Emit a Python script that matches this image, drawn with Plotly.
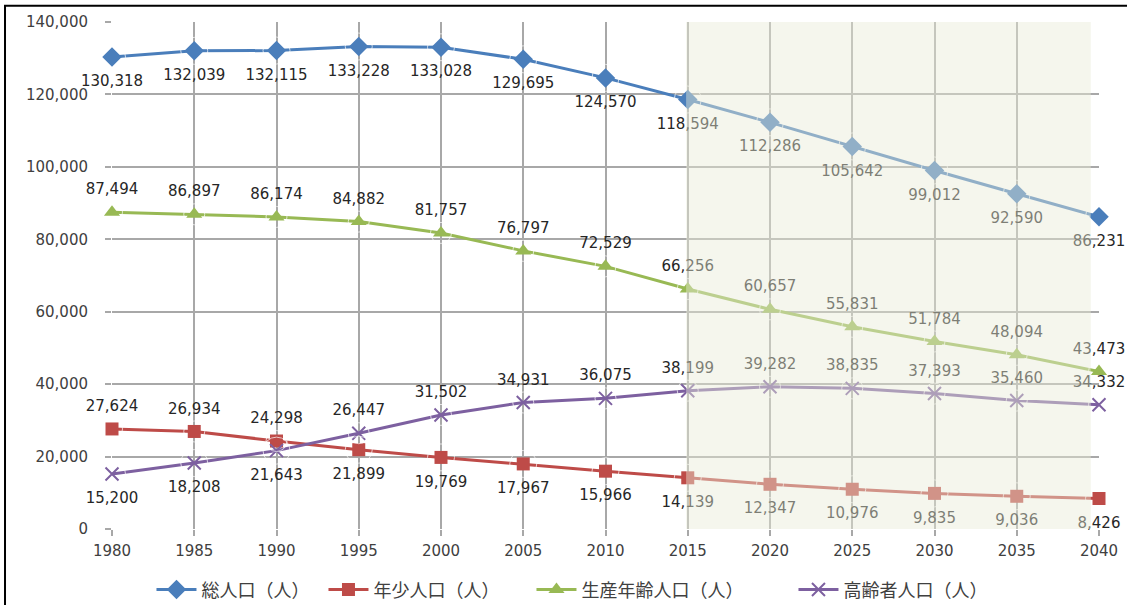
import plotly.graph_objects as go

years = [1980, 1985, 1990, 1995, 2000, 2005, 2010, 2015, 2020, 2025, 2030, 2035, 2040]
total = [130318, 132039, 132115, 133228, 133028, 129695, 124570, 118594, 112286, 105642, 99012, 92590, 86231]
young = [27624, 26934, 24298, 21899, 19769, 17967, 15966, 14139, 12347, 10976, 9835, 9036, 8426]
working = [87494, 86897, 86174, 84882, 81757, 76797, 72529, 66256, 60657, 55831, 51784, 48094, 43473]
elderly = [15200, 18208, 21643, 26447, 31502, 34931, 36075, 38199, 39282, 38835, 37393, 35460, 34332]

names = ["総人口（人）", "年少人口（人）", "生産年齢人口（人）", "高齢者人口（人）"]
legend_pad = ["\u3000", "\u3000\u3000", "\u3000\u3000\u3000", "\u3000"]
colors = ["#4a7ebb", "#be4b48", "#98b954", "#7d60a0"]
symbols = ["diamond", "square", "triangle-up", "x-thin"]
sizes = [15, 13, 14, 13]

pos_total = ["bottom center"] * 13
pos_working = ["top center"] * 13
pos_young = ["top center"] * 3 + ["bottom center"] * 10
pos_elderly = ["bottom center"] * 3 + ["top center"] * 10

series = [total, young, working, elderly]
positions = [pos_total, pos_young, pos_working, pos_elderly]

fig = go.Figure()
for vals, name, pad, col, sym, sz in zip(series, names, legend_pad, colors, symbols, sizes):
    marker = dict(symbol=sym, size=sz, color=col)
    if sym == "x-thin":
        marker["line"] = dict(color=col, width=2)
    fig.add_trace(go.Scatter(
        x=years, y=vals, name=name + pad, mode="lines+markers",
        line=dict(color=col, width=3), marker=marker, cliponaxis=False,
    ))

# data labels (invisible larger markers give the label offset)
for vals, pos in zip(series, positions):
    fig.add_trace(go.Scatter(
        x=years, y=vals, mode="markers+text", showlegend=False, hoverinfo="skip",
        marker=dict(size=[21 if p.startswith("top") else 27 for p in pos], color="rgba(0,0,0,0)"),
        text=[f"{v:,}" for v in vals], textposition=pos,
        textfont=dict(size=15, color="#262626", family="DejaVu Sans"),
        cliponaxis=False,
    ))

# forecast overlay (semi-transparent, above data)
fig.add_shape(type="rect", xref="x", yref="y", x0=2014.9, x1=2039.5, y0=-300, y1=141000,
              fillcolor="rgba(232,235,215,0.45)", line=dict(width=0), layer="above")
# outer frame
fig.add_shape(type="rect", xref="paper", yref="paper", x0=-0.1084, x1=1.04, y0=-0.25, y1=1.032,
              line=dict(color="#000000", width=2), fillcolor="rgba(0,0,0,0)", layer="below")

fig.update_layout(
    width=1127, height=605,
    margin=dict(l=112, r=28, t=22, b=76, autoexpand=False),
    paper_bgcolor="white", plot_bgcolor="white",
    font=dict(family="DejaVu Sans, Noto Sans CJK JP", size=15, color="#404040"),
    showlegend=True,
    legend=dict(orientation="h", x=0.04, xanchor="left", y=-0.12, yanchor="middle",
                font=dict(size=18, color="#404040", family="Noto Sans CJK JP"),
                bgcolor="rgba(0,0,0,0)", itemwidth=40),
)
fig.update_xaxes(range=[1980, 2040], tickmode="array", tickvals=years,
                 ticktext=[str(y) for y in years],
                 showgrid=True, gridcolor="#a8a8a8", gridwidth=1.5,
                 ticks="outside", ticklen=6, tickcolor="#a8a8a8", tickwidth=1.5,
                 ticklabelstandoff=2,
                 zeroline=False, showline=False,
                 tickfont=dict(size=15, color="#404040", family="DejaVu Sans"))
fig.update_yaxes(range=[0, 140000], tickmode="array",
                 tickvals=[0, 20000, 40000, 60000, 80000, 100000, 120000, 140000],
                 ticktext=["0", "20,000", "40,000", "60,000", "80,000", "100,000", "120,000", "140,000"],
                 showgrid=True, gridcolor="#a8a8a8", gridwidth=1.5,
                 ticks="outside", ticklen=6, tickcolor="#a8a8a8", tickwidth=1.5,
                 ticklabelstandoff=14,
                 zeroline=False, showline=False,
                 tickfont=dict(size=15, color="#404040", family="DejaVu Sans"))

fig.write_html("out.html")
